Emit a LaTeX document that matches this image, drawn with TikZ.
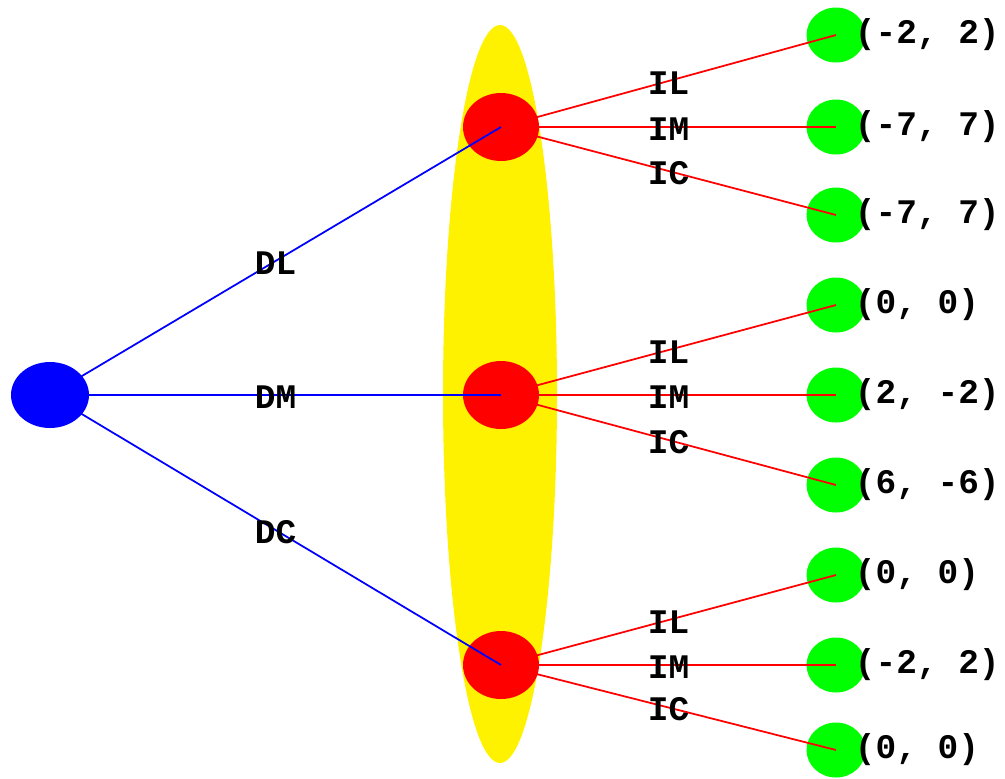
\documentclass[tikz,border=0pt]{standalone}
\usepackage{fontspec}
\newfontfamily\gamefont{Liberation Mono}
\usetikzlibrary{shapes.geometric}
\newcommand{\gametext}{\gamefont\bfseries\fontsize{9.8}{10}\selectfont}
\tikzset{
  rootnode/.style={ellipse,fill=blue,minimum width=0.78cm,minimum height=0.66cm,inner sep=0pt},
  movenode/.style={ellipse,fill=red,minimum width=0.76cm,minimum height=0.68cm,inner sep=0pt},
  leafnode/.style={ellipse,fill=green,minimum width=0.59cm,minimum height=0.55cm,inner sep=0pt},
  payoff/.style={anchor=west,font=\gametext,inner sep=0pt},
  movelabel/.style={font=\gametext,text=black,inner sep=0pt,yshift=-0.02cm},
  dline/.style={blue,line width=0.5pt},
  iline/.style={red,line width=0.5pt}
}

\begin{document}
\begin{tikzpicture}
 \useasboundingbox (0,0) rectangle (10.05,7.78);
 % information set
 \fill[yellow] (5.00,3.84) ellipse (0.57 and 3.69);

 \node[rootnode] (root) at (0.50,3.83) {};
 \foreach \i/\y in {1/6.51,2/3.83,3/1.13}
   \node[movenode] (d\i) at (5.01,\y) {};

 \foreach \i/\j/\y/\p in {1/1/7.43/{(-2, 2)},1/2/6.51/{(-7, 7)},1/3/5.63/{(-7, 7)},
                          2/1/4.73/{(0, 0)},2/2/3.83/{(2, -2)},2/3/2.93/{(6, -6)},
                          3/1/2.03/{(0, 0)},3/2/1.13/{(-2, 2)},3/3/0.28/{(0, 0)}}
 {
   \node[leafnode] (t\i\j) at (8.36,\y) {};
   \node[payoff] (p\i\j) at ([xshift=-0.12cm]t\i\j.east) {\p};
 }

 \foreach \i in {1,2,3}
 {
   \draw[iline] (d\i.center) -- (t\i1.center) node[movelabel,midway] (l\i1) {IL};
   \draw[iline] (d\i.center) -- (t\i2.center) node[movelabel,midway] (l\i2) {IM};
   \draw[iline] (d\i.center) -- (t\i3.center) node[movelabel,midway] (l\i3) {IC};
 }

 \draw[dline] (root.center) -- (d1.center) node[movelabel,midway] (ldl) {DL};
 \draw[dline] (root.center) -- (d2.center) node[movelabel,midway] (ldm) {DM};
 \draw[dline] (root.center) -- (d3.center) node[movelabel,midway] (ldc) {DC};

\end{tikzpicture}
\end{document}
